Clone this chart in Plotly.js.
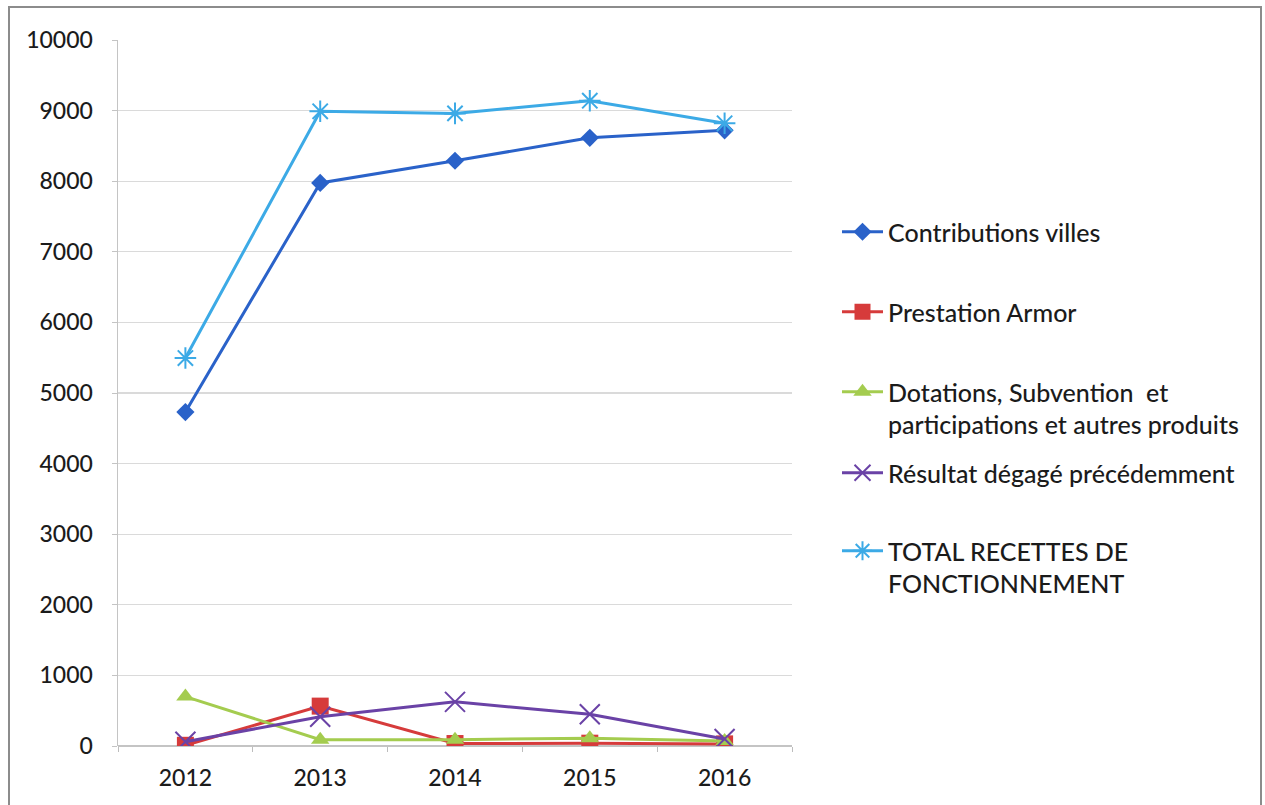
<!DOCTYPE html>
<html>
<head>
<meta charset="utf-8">
<script src="https://cdn.plot.ly/plotly-3.0.1.min.js"></script>
<style>
  html, body { margin: 0; padding: 0; background: #ffffff; }
  #chart { width: 1265px; height: 805px; }
</style>
</head>
<body>
<div id="chart"></div>
<script>
// Recettes de fonctionnement 2012-2016
const years = ['2012', '2013', '2014', '2015', '2016'];

const contributionsVilles = [4730, 7975, 8290, 8615, 8720];
const prestationArmor     = [10, 565, 35, 40, 30];
const dotations           = [700, 90, 90, 110, 70];
const resultatPrecedent   = [60, 415, 625, 450, 100];
const totalRecettes       = [5495, 8990, 8960, 9140, 8820];

const seriesNames = [
  'Contributions villes',
  'Prestation Armor',
  'Dotations, Subvention  et<br>participations et autres produits',
  'Résultat dégagé précédemment',
  'TOTAL RECETTES DE<br>FONCTIONNEMENT'
];

const yTicks = [0, 1000, 2000, 3000, 4000, 5000, 6000, 7000, 8000, 9000, 10000];

const FONT = 'Lato, "Open Sans", sans-serif';
const TEXT = '#1b1b1b';

function series(y, name, color, symbol, size, legendId, extraMarker) {
  return {
    x: years,
    y: y,
    name: name,
    type: 'scatter',
    mode: 'lines+markers',
    legend: legendId,
    line: { color: color, width: 3 },
    marker: Object.assign({ symbol: symbol, size: size, color: color }, extraMarker || {})
  };
}

const traces = [
  series(contributionsVilles, seriesNames[0], '#2a62c9', 'diamond', 14, 'legend'),
  series(prestationArmor, seriesNames[1], '#d63b3b', 'square', 17, 'legend2'),
  series(dotations, seriesNames[2], '#a4cc4f', 'triangle-up', 16, 'legend3'),
  series(resultatPrecedent, seriesNames[3], '#6a42a6', 'x-thin-open', 20, 'legend4',
         { line: { color: '#6a42a6', width: 2 } }),
  series(totalRecettes, seriesNames[4], '#3caae6', 'asterisk-open', 18, 'legend5',
         { line: { color: '#3caae6', width: 2 } })
];

function legendAt(yc) {
  return {
    x: 837 / 1265, xref: 'container', xanchor: 'left',
    y: yc, yref: 'container', yanchor: 'middle',
    bgcolor: 'rgba(0,0,0,0)', borderwidth: 0,
    valign: 'top',
    itemwidth: 41,
    font: { family: FONT, size: 25, color: TEXT, weight: 500 }
  };
}

const layout = {
  width: 1265,
  height: 805,
  paper_bgcolor: '#ffffff',
  plot_bgcolor: '#ffffff',
  margin: { l: 118, r: 473, t: 40, b: 59 },
  font: { family: FONT, size: 23, color: TEXT, weight: 500 },
  showlegend: true,
  legend:  legendAt(1 - 232 / 805),
  legend2: legendAt(1 - 312 / 805),
  legend3: legendAt(1 - 408 / 805),
  legend4: legendAt(1 - 473 / 805),
  legend5: legendAt(1 - 567 / 805),
  xaxis: {
    type: 'category',
    range: [-0.5, 4.5],
    showgrid: false,
    showline: false,
    zeroline: false,
    ticks: 'outside',
    tickson: 'boundaries',
    ticklen: 5,
    tickcolor: '#bdbdbd',
    tickfont: { family: FONT, size: 23, color: TEXT, weight: 500 },
    ticklabelstandoff: 16
  },
  yaxis: {
    range: [0, 10000],
    tickvals: yTicks,
    ticktext: yTicks.map(String),
    showgrid: true,
    gridcolor: '#dadada',
    gridwidth: 1.2,
    zeroline: true,
    zerolinecolor: '#c4c4c4',
    zerolinewidth: 1.5,
    showline: true,
    linecolor: '#c4c4c4',
    linewidth: 1.5,
    ticks: 'outside',
    ticklen: 5,
    tickcolor: '#c4c4c4',
    tickfont: { family: FONT, size: 23, color: TEXT, weight: 500 },
    ticklabelstandoff: 14
  },
  shapes: [
    {
      type: 'rect', xref: 'paper', yref: 'paper',
      x0: (9 - 118) / 674, x1: (1261 - 118) / 674,
      y0: -0.2, y1: (746 - 7) / 706,
      line: { color: '#8c8c8c', width: 2 },
      fillcolor: 'rgba(0,0,0,0)',
      layer: 'below'
    }
  ]
};

Plotly.newPlot('chart', traces, layout, { displayModeBar: false, staticPlot: true });
</script>
</body>
</html>
